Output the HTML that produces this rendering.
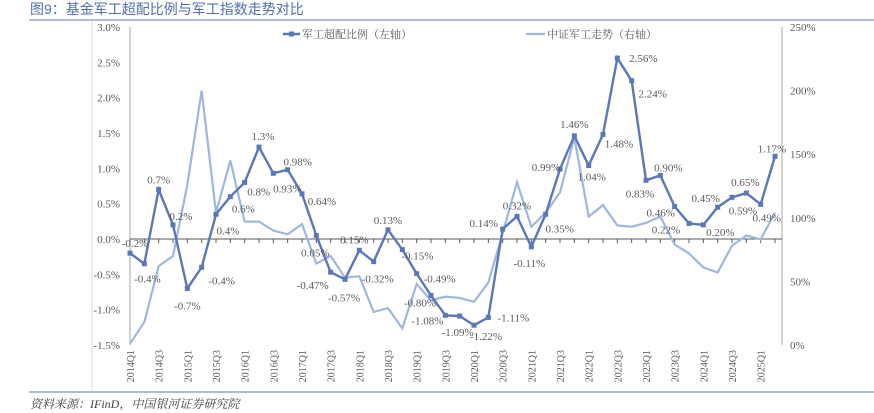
<!DOCTYPE html>
<html><head><meta charset="utf-8"><style>
body{margin:0;background:#fff;width:874px;height:413px;overflow:hidden}
svg{display:block}
text{font-family:"Liberation Serif","Noto Serif CJK SC",serif;fill:#595959}
</style></head><body>
<svg id="chart" width="874" height="413">
<text x="30" y="14" font-size="14" style="fill:#4f6fae;font-family:'Liberation Sans','Noto Sans CJK SC',sans-serif">图9：基金军工超配比例与军工指数走势对比</text>
<line x1="29" y1="20" x2="874" y2="20" stroke="#7a93c4" stroke-width="1.2"/>
<line x1="92" y1="21" x2="92" y2="391" stroke="#d9d9d9"/>
<line x1="29" y1="392" x2="874" y2="392" stroke="#7a93c4" stroke-width="1.2"/>
<text x="30" y="408" font-size="12" font-style="italic" style="fill:#404040">资料来源：IFinD，中国银河证券研究院</text>
<g id="g"></g>
</svg>
<script>
const categories=[];for(let y=2014;y<=2025;y++)for(let q=1;q<=4;q++)if(categories.length<46)categories.push(y+'Q'+q);
const overweight=[-0.2,-0.35,0.7,0.2,-0.7,-0.4,0.35,0.6,0.8,1.3,0.93,0.98,0.64,0.05,-0.47,-0.57,-0.16,-0.32,0.13,-0.15,-0.49,-0.80,-1.08,-1.09,-1.22,-1.11,0.14,0.32,-0.11,0.35,0.99,1.46,1.04,1.48,2.56,2.24,0.83,0.90,0.46,0.22,0.20,0.45,0.59,0.65,0.49,1.17];
const indexTrend=[1,18,62,70,126,200,104,145,97,97,90,87,95,64,70,53,54,26,29,13,48,35,38,37,34,49,88,128,93,104,120,163,101,110,94,93,96,101,79,72,61,57,78,86,83,104];
const labels=['-0.2%','-0.4%','0.7%','0.2%','-0.7%','-0.4%','0.4%','0.6%','0.8%','1.3%','0.93%','0.98%','0.64%','0.05%','-0.47%','-0.57%','0.15%','-0.32%','0.13%','-0.15%','-0.49%','-0.80%','-1.08%','-1.09%','-1.22%','-1.11%','0.14%','0.32%','-0.11%','0.35%','0.99%','1.46%','1.04%','1.48%','2.56%','2.24%','0.83%','0.90%','0.46%','0.22%','0.20%','0.45%','0.59%','0.65%','0.49%','1.17%'];
const labelOffsets=[[5,-10],[3,15],[0,-10],[8,-9],[0,17],[20,13],[12,16],[13,12],[14,9],[4,-11],[14,15],[10,-8],[20,7],[-1,17],[-18,13],[-1,18],[-5,-11],[4,17],[0,-10],[15,6],[23,5],[-11,7],[-18,5],[-2,16],[12,11],[25,0],[-19,-6],[0,-11],[-2,16],[14,14],[-14,-2],[0,-12],[3,11],[16,9],[26,0],[21,13],[-6,13],[8,-8],[-14,6],[-23,6],[17,7],[-12,-9],[11,13],[-1,-11],[6,13],[-3,-8]];
const leftTicks=[3.0,2.5,2.0,1.5,1.0,0.5,0.0,-0.5,-1.0,-1.5];
const rightTicks=[250,200,150,100,50,0];
const X0=130,X1=775,YT=27,YB=345;
const xs=i=>X0+(X1-X0)*i/(categories.length-1);
const yL=v=>YB-(v+1.5)/4.5*(YB-YT);
const yR=v=>YB-v/250*(YB-YT);
const g=document.getElementById('g');const NS='http://www.w3.org/2000/svg';
function mk(t,a,txt){const e=document.createElementNS(NS,t);for(const k in a)e.setAttribute(k,a[k]);if(txt!==undefined)e.textContent=txt;g.appendChild(e);return e;}
let e=mk('line',{x1:X0,y1:YT,x2:X0,y2:YB,stroke:'#a6a6a6'});


e=mk('line',{x1:782,y1:YT,x2:782,y2:YB,stroke:'#a6a6a6'});


e=mk('line',{x1:X0,y1:yL(0),x2:782,y2:yL(0),stroke:'#595959'});


leftTicks.forEach(v=>{e=mk('text',{x:120,y:yL(v)+4,'font-size':11,'text-anchor':'end'},v.toFixed(1)+'%');

});
rightTicks.forEach(v=>{e=mk('text',{x:790,y:yR(v)+4,'font-size':11},v+'%');

});
categories.forEach((c,i)=>{const x=xs(i);e=mk('line',{x1:x,y1:yL(0),x2:x,y2:yL(0)+4,stroke:'#595959'});


if(i%2===0){e=mk('text',{x:0,y:0,'font-size':10,'text-anchor':'end',transform:`translate(${x+4},350) rotate(-90)`},c);

}});
e=mk('polyline',{points:indexTrend.map((v,i)=>xs(i)+','+yR(v)).join(' '),fill:'none',stroke:'#9fb6e0','stroke-width':2.2});


e=mk('polyline',{points:overweight.map((v,i)=>xs(i)+','+yL(v)).join(' '),fill:'none',stroke:'#5b77b5','stroke-width':2.4});


overweight.forEach((v,i)=>{e=mk('rect',{x:xs(i)-2.5,y:yL(v)-2.5,width:5,height:5,fill:'#5b77b5'});


const o=labelOffsets[i];e=mk('text',{x:xs(i)+o[0],y:yL(v)+o[1]+4,'font-size':11,'text-anchor':'middle'},labels[i]);

});
e=mk('line',{x1:283,y1:34,x2:300,y2:34,stroke:'#5b77b5','stroke-width':2.4});


e=mk('rect',{x:289,y:31.5,width:5,height:5,fill:'#5b77b5'});


e=mk('text',{x:302,y:38,'font-size':11},'军工超配比例（左轴）');


e=mk('line',{x1:526,y1:34,x2:545,y2:34,stroke:'#9fb6e0','stroke-width':2.2});


e=mk('text',{x:547,y:38,'font-size':11},'中证军工走势（右轴）');


</script>
</body></html>
